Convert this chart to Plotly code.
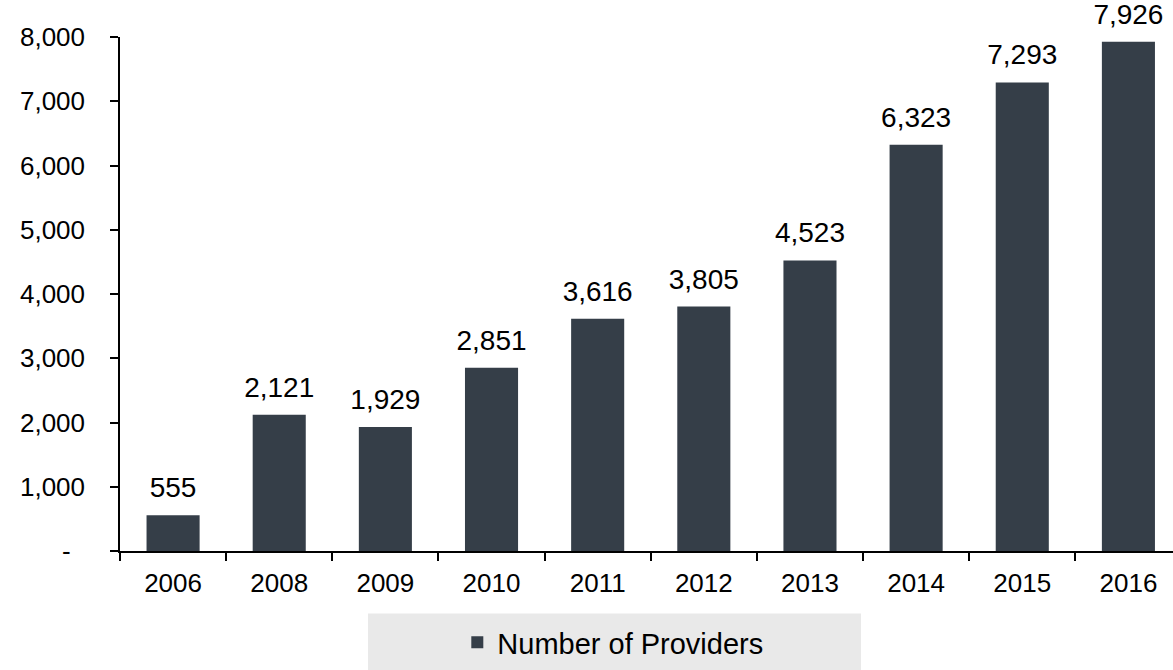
import plotly.graph_objects as go

years = ["2006", "2008", "2009", "2010", "2011", "2012", "2013", "2014", "2015", "2016"]
providers = [555, 2121, 1929, 2851, 3616, 3805, 4523, 6323, 7293, 7926]
ytick_vals = [0, 1000, 2000, 3000, 4000, 5000, 6000, 7000, 8000]
ytick_text = ["-\u00a0\u00a0", "1,000", "2,000", "3,000", "4,000", "5,000", "6,000", "7,000", "8,000"]
series_name = "Number of Providers"

FONT = "Liberation Sans, Arial, sans-serif"
BAR = "#353e48"

fig = go.Figure()
fig.add_trace(go.Bar(
    x=years, y=providers, name=series_name,
    marker=dict(color=BAR, line=dict(width=0)),
    showlegend=True, hoverinfo="x+y",
))

# data labels
fig.add_trace(go.Scatter(
    x=years, y=providers, mode="markers+text",
    text=[f"{v:,}" for v in providers], textposition="top center",
    marker=dict(size=16, color="rgba(0,0,0,0)"),
    textfont=dict(family=FONT, size=28, color="#000000"),
    showlegend=False, hoverinfo="skip", cliponaxis=False,
))

fig.add_shape(
    type="rect", xref="paper", yref="paper",
    x0=(368 - 120) / 1053, x1=(861 - 120) / 1053,
    y0=-0.235, y1=-0.1215,
    fillcolor="#e9e9e9", line=dict(width=0), layer="below",
)

fig.update_layout(
    width=1173, height=670,
    margin=dict(l=120, r=0, t=37, b=118.5, pad=0),
    paper_bgcolor="#ffffff", plot_bgcolor="#ffffff",
    bargap=0.5,
    font=dict(family=FONT, size=26, color="#000000"),
    showlegend=True,
    legend=dict(
        orientation="h", x=0.468, xanchor="center", y=-0.178, yanchor="middle",
        bgcolor="rgba(0,0,0,0)", font=dict(family=FONT, size=29, color="#000000"),
        itemclick=False,
    ),
    xaxis=dict(
        type="category", range=[-0.5, 9.42], tickson="boundaries",
        ticks="outside", ticklen=8, tickwidth=1.5, tickcolor="#000000",
        showline=True, linecolor="#000000", linewidth=1.5,
        showgrid=False, zeroline=False, ticklabelstandoff=8,
        tickfont=dict(family=FONT, size=26, color="#000000"),
    ),
    yaxis=dict(
        range=[0, 8000], tickvals=ytick_vals, ticktext=ytick_text,
        ticks="outside", ticklen=8, tickwidth=1.5, tickcolor="#000000",
        showline=True, linecolor="#000000", linewidth=1.5,
        showgrid=False, zeroline=False,
        ticklabelstandoff=20,
        tickfont=dict(family=FONT, size=26, color="#000000"),
    ),
)

fig.write_html("out.html", config={"displayModeBar": False},
               post_script="document.body.style.margin='0';")
